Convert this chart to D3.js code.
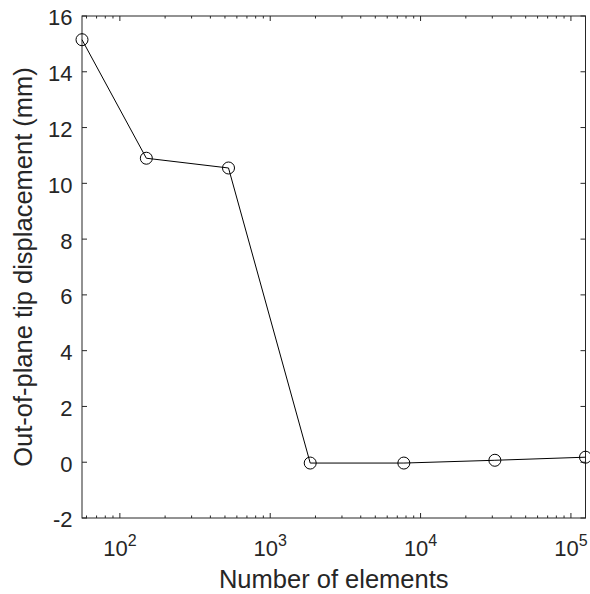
<!DOCTYPE html>
<html>
<head>
<meta charset="utf-8">
<script src="https://cdn.jsdelivr.net/npm/d3@7"></script>
<style>
  body { margin: 0; background: #fff; }
  text { font-family: "Liberation Sans", Arial, sans-serif; fill: #262626; }
</style>
</head>
<body>
<script>
var elements = [56, 150, 528, 1845, 7740, 31200, 125000];
var displacement = [15.15, 10.9, 10.55, -0.03, -0.03, 0.07, 0.18];
var yTicks = [-2, 0, 2, 4, 6, 8, 10, 12, 14, 16];
var xTicks = [100, 1000, 10000, 100000];

var width = 590,
    height = 594,
    margin = {top: 16, right: 4.5, bottom: 76, left: 82};

var x = d3.scaleLog()
    .domain(d3.extent(elements))
    .range([margin.left, width - margin.right]);

var y = d3.scaleLinear()
    .domain([-2, 16])
    .range([height - margin.bottom, margin.top]);

var svg = d3.select("body").append("svg")
    .attr("width", width)
    .attr("height", height);

// minor ticks for the log axis
var minor = [];
[10, 100, 1000, 10000, 100000].forEach(function(d) {
  for (var k = 2; k <= 9; k++) {
    var v = d * k;
    if (v >= x.domain()[0] && v <= x.domain()[1]) minor.push(v);
  }
});

var x0 = margin.left, x1 = width - margin.right,
    y0 = height - margin.bottom, y1 = margin.top;

var axes = svg.append("g").attr("stroke", "#262626").attr("stroke-width", 1);

axes.append("rect")
    .attr("x", x0).attr("y", y1)
    .attr("width", x1 - x0).attr("height", y0 - y1)
    .attr("fill", "none");

axes.selectAll(".xmaj").data(xTicks).enter().append("path")
    .attr("d", function(d) {
      var px = x(d);
      return "M" + px + "," + y0 + "v-5M" + px + "," + y1 + "v5";
    });

axes.selectAll(".xmin").data(minor).enter().append("path")
    .attr("d", function(d) {
      var px = x(d);
      return "M" + px + "," + y0 + "v-2.5M" + px + "," + y1 + "v2.5";
    });

axes.selectAll(".ymaj").data(yTicks).enter().append("path")
    .attr("d", function(d) {
      var py = y(d);
      return "M" + x0 + "," + py + "h5M" + x1 + "," + py + "h-5";
    });

// y tick labels
svg.selectAll(".ylab").data(yTicks).enter().append("text")
    .attr("x", x0 - 9.5)
    .attr("y", function(d) { return y(d); })
    .attr("dy", "0.43em")
    .attr("text-anchor", "end")
    .attr("font-size", 22)
    .text(function(d) { return d; });

// x tick labels 10^n
var xl = svg.selectAll(".xlab").data(xTicks).enter().append("text")
    .attr("x", function(d) { return x(d); })
    .attr("y", 556)
    .attr("text-anchor", "middle")
    .attr("font-size", 22);
xl.append("tspan").text("10");
xl.append("tspan")
    .attr("font-size", 16)
    .attr("dy", -10)
    .text(function(d) { return Math.round(Math.log10(d)); });

svg.append("text")
    .attr("x", (x0 + x1) / 2)
    .attr("y", 587.5)
    .attr("text-anchor", "middle")
    .attr("font-size", 25.5)
    .text("Number of elements");

svg.append("text")
    .attr("transform", "translate(32," + ((y0 + y1) / 2) + ") rotate(-90)")
    .attr("text-anchor", "middle")
    .attr("font-size", 25.5)
    .text("Out-of-plane tip displacement (mm)");

var pts = elements.map(function(d, i) { return [d, displacement[i]]; });

var line = d3.line()
    .x(function(d) { return x(d[0]); })
    .y(function(d) { return y(d[1]); });

svg.append("path")
    .datum(pts)
    .attr("d", line)
    .attr("fill", "none")
    .attr("stroke", "#000")
    .attr("stroke-width", 1);

svg.selectAll(".pt").data(pts).enter().append("circle")
    .attr("cx", function(d) { return x(d[0]); })
    .attr("cy", function(d) { return y(d[1]); })
    .attr("r", 6)
    .attr("fill", "none")
    .attr("stroke", "#000")
    .attr("stroke-width", 1);
</script>
</body>
</html>
